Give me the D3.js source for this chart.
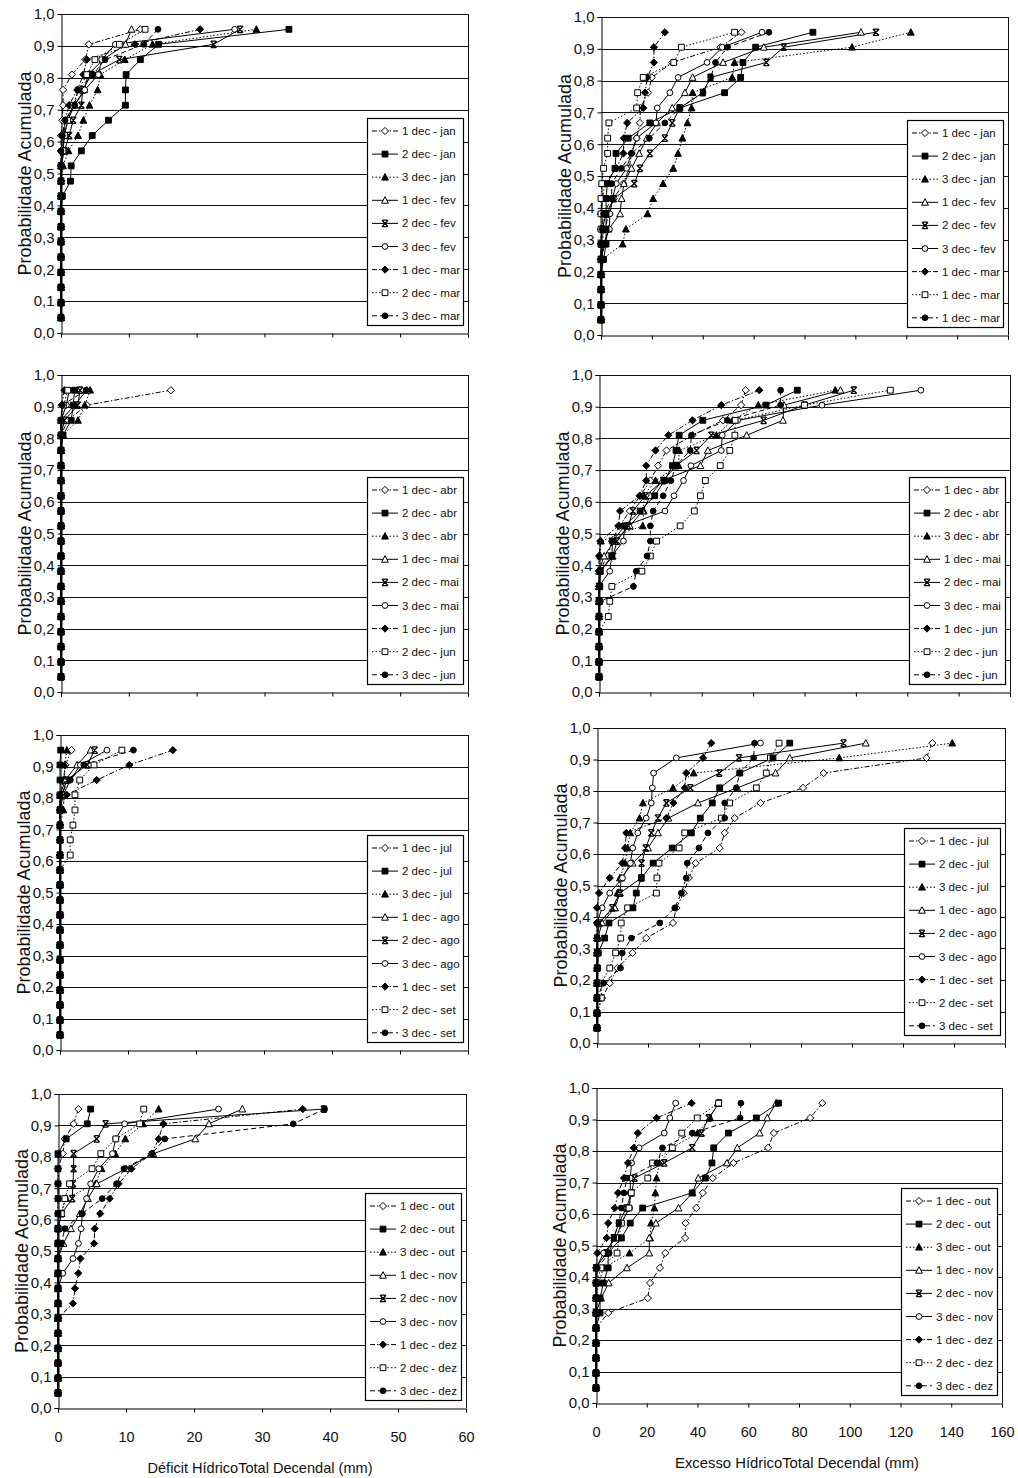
<!DOCTYPE html>
<html>
<head>
<meta charset="utf-8">
<script src="https://cdn.jsdelivr.net/npm/d3@7"></script>
<style>
  body { margin: 0; background: #fff; }
  svg { display: block; }
  text { font-family: "Liberation Sans", Arial, sans-serif; fill: #111; }
</style>
</head>
<body>
<svg id="chart" width="1018" height="1478"></svg>
<script>
// Cumulative probability of each ranked value (20 years), highest first
const probLevels = [0.952, 0.905, 0.857, 0.810, 0.762, 0.714, 0.667, 0.619, 0.571, 0.524,
                    0.476, 0.429, 0.381, 0.333, 0.286, 0.238, 0.190, 0.143, 0.095, 0.048];

const yTicks = [0, 0.1, 0.2, 0.3, 0.4, 0.5, 0.6, 0.7, 0.8, 0.9, 1.0];
const deficitTicks = [0, 10, 20, 30, 40, 50, 60];
const excessTicks = [0, 20, 40, 60, 80, 100, 120, 140, 160];

// ---- Water deficit per ten-day period (mm), ranked, highest first ----
const defJan1 = [11.7, 4.1, 3.6, 1.6, 0.3, 0.3, 0.2, 0, 0, 0, 0, 0, 0, 0, 0, 0, 0, 0, 0, 0];
const defJan2 = [33.6, 14.4, 11.7, 9.6, 9.5, 9.5, 7.0, 4.6, 3.0, 1.5, 1.4, 0.2, 0, 0, 0, 0, 0, 0, 0, 0];
const defJan3 = [28.8, 13.5, 9.4, 5.8, 5.4, 4.2, 3.3, 2.5, 1.1, 0.3, 0, 0, 0, 0, 0, 0, 0, 0, 0, 0];
const defFev1 = [10.4, 9.5, 6.2, 4.0, 3.4, 2.0, 1.0, 0.5, 0.3, 0, 0, 0, 0, 0, 0, 0, 0, 0, 0, 0];
const defFev2 = [26.4, 22.5, 8.6, 4.5, 3.2, 3.0, 1.8, 1.2, 0.5, 0, 0, 0, 0, 0, 0, 0, 0, 0, 0, 0];
const defFev3 = [25.6, 8.0, 6.0, 5.5, 3.5, 2.0, 0.6, 0.5, 0.2, 0, 0, 0, 0, 0, 0, 0, 0, 0, 0, 0];
const defMar1 = [20.5, 10.9, 3.8, 3.3, 2.4, 1.2, 0.6, 0.2, 0, 0, 0, 0, 0, 0, 0, 0, 0, 0, 0, 0];
const defMar2 = [12.4, 8.6, 5.0, 3.8, 2.6, 1.8, 1.0, 0.5, 0.3, 0, 0, 0, 0, 0, 0, 0, 0, 0, 0, 0];
const defMar3 = [14.3, 12.2, 6.5, 4.7, 2.5, 2.0, 0.6, 0.2, 0, 0, 0, 0, 0, 0, 0, 0, 0, 0, 0, 0];

const defAbr1 = [16.2, 3.8, 1.0, 0, 0, 0, 0, 0, 0, 0, 0, 0, 0, 0, 0, 0, 0, 0, 0, 0];
const defAbr2 = [2.0, 1.8, 1.5, 0.3, 0, 0, 0, 0, 0, 0, 0, 0, 0, 0, 0, 0, 0, 0, 0, 0];
const defAbr3 = [4.3, 3.5, 2.5, 0.3, 0, 0, 0, 0, 0, 0, 0, 0, 0, 0, 0, 0, 0, 0, 0, 0];
const defMai1 = [3.8, 2.0, 0, 0, 0, 0, 0, 0, 0, 0, 0, 0, 0, 0, 0, 0, 0, 0, 0, 0];
const defMai2 = [2.8, 2.5, 0.5, 0, 0, 0, 0, 0, 0, 0, 0, 0, 0, 0, 0, 0, 0, 0, 0, 0];
const defMai3 = [1.2, 0.8, 0, 0, 0, 0, 0, 0, 0, 0, 0, 0, 0, 0, 0, 0, 0, 0, 0, 0];
const defJun1 = [0.5, 0.1, 0, 0, 0, 0, 0, 0, 0, 0, 0, 0, 0, 0, 0, 0, 0, 0, 0, 0];
const defJun2 = [1.0, 0.4, 0, 0, 0, 0, 0, 0, 0, 0, 0, 0, 0, 0, 0, 0, 0, 0, 0, 0];
const defJun3 = [3.7, 0.2, 0, 0, 0, 0, 0, 0, 0, 0, 0, 0, 0, 0, 0, 0, 0, 0, 0, 0];

const defJul1 = [1.7, 0.8, 0.5, 0, 0, 0, 0, 0, 0, 0, 0, 0, 0, 0, 0, 0, 0, 0, 0, 0];
const defJul2 = [0.1, 0, 0, 0, 0, 0, 0, 0, 0, 0, 0, 0, 0, 0, 0, 0, 0, 0, 0, 0];
const defJul3 = [1.0, 0.7, 0.6, 0.6, 0.5, 0, 0, 0, 0, 0, 0, 0, 0, 0, 0, 0, 0, 0, 0, 0];
const defAgo1 = [4.5, 2.5, 0.8, 0, 0, 0, 0, 0, 0, 0, 0, 0, 0, 0, 0, 0, 0, 0, 0, 0];
const defAgo2 = [5.1, 4.0, 1.0, 0.3, 0, 0, 0, 0, 0, 0, 0, 0, 0, 0, 0, 0, 0, 0, 0, 0];
const defAgo3 = [6.9, 3.0, 1.5, 0.5, 0, 0, 0, 0, 0, 0, 0, 0, 0, 0, 0, 0, 0, 0, 0, 0];
const defSet1 = [16.6, 10.2, 5.4, 1.0, 0, 0, 0, 0, 0, 0, 0, 0, 0, 0, 0, 0, 0, 0, 0, 0];
const defSet2 = [9.1, 5.0, 2.9, 2.2, 2.2, 1.9, 1.5, 1.5, 0, 0, 0, 0, 0, 0, 0, 0, 0, 0, 0, 0];
const defSet3 = [10.8, 3.5, 1.5, 0, 0, 0, 0, 0, 0, 0, 0, 0, 0, 0, 0, 0, 0, 0, 0, 0];

const defOut1 = [3.0, 2.3, 1.0, 0.7, 0, 0, 0, 0, 0, 0, 0, 0, 0, 0, 0, 0, 0, 0, 0, 0];
const defOut2 = [4.8, 4.3, 1.2, 0, 0, 0, 0, 0, 0, 0, 0, 0, 0, 0, 0, 0, 0, 0, 0, 0];
const defOut3 = [14.8, 12.5, 9.9, 8.4, 6.4, 5.5, 1.2, 0.5, 0, 0, 0, 0, 0, 0, 0, 0, 0, 0, 0, 0];
const defNov1 = [27.1, 22.2, 20.2, 14.0, 10.0, 5.7, 4.4, 3.2, 1.9, 0.8, 0, 0, 0, 0, 0, 0, 0, 0, 0, 0];
const defNov2 = [39.1, 7.0, 5.7, 2.3, 2.3, 2.2, 2.1, 0.5, 0, 0, 0, 0, 0, 0, 0, 0, 0, 0, 0, 0];
const defNov3 = [23.6, 9.8, 8.5, 8.0, 6.0, 4.8, 4.2, 3.6, 3.4, 3.0, 2.2, 0.7, 0, 0, 0, 0, 0, 0, 0, 0];
const defDez1 = [36.0, 15.5, 14.8, 13.8, 10.8, 8.9, 7.6, 6.2, 5.4, 5.3, 3.3, 3.0, 2.5, 2.2, 0, 0, 0, 0, 0, 0];
const defDez2 = [12.6, 12.0, 8.5, 6.3, 5.0, 1.7, 1.0, 0.5, 0, 0, 0, 0, 0, 0, 0, 0, 0, 0, 0, 0];
const defDez3 = [39.2, 34.6, 15.7, 13.8, 9.7, 8.6, 6.5, 3.5, 1.0, 0.5, 0, 0, 0, 0, 0, 0, 0, 0, 0, 0];

// ---- Water excess per ten-day period (mm), ranked, highest first ----
const excJan1 = [55.2, 47.0, 28.0, 20.0, 18.5, 15.5, 15.3, 14.0, 12.0, 11.1, 8.8, 5.0, 3.0, 1.6, 0, 0, 0, 0, 0, 0];
const excJan2 = [83.3, 60.8, 55.8, 54.9, 48.6, 31.0, 19.2, 10.7, 5.9, 5.5, 2.5, 2.0, 2.0, 2.0, 2.0, 1.0, 0, 0, 0, 0];
const excJan3 = [121.8, 98.7, 52.5, 51.6, 36.0, 35.6, 34.0, 32.0, 30.3, 28.4, 24.4, 20.5, 18.3, 9.8, 8.5, 0.5, 0, 0, 0, 0];
const excFev1 = [102.2, 64.0, 48.0, 36.0, 33.0, 28.0, 22.0, 18.0, 15.0, 12.0, 9.0, 8.1, 7.5, 3.0, 1.5, 0, 0, 0, 0, 0];
const excFev2 = [108.1, 71.8, 65.0, 43.0, 40.0, 31.0, 28.0, 25.1, 19.2, 15.3, 13.1, 5.0, 2.0, 0.5, 0, 0, 0, 0, 0, 0];
const excFev3 = [63.3, 47.7, 41.7, 30.3, 27.1, 22.1, 21.6, 14.0, 12.0, 10.0, 6.0, 4.5, 3.5, 3.3, 1.0, 0, 0, 0, 0, 0];
const excMar1 = [25.1, 20.8, 20.8, 18.2, 17.3, 16.6, 10.3, 9.0, 8.8, 6.0, 1.6, 0.5, 0, 0, 0, 0, 0, 0, 0, 0];
const excMar2 = [52.5, 31.6, 28.6, 16.6, 14.4, 14.0, 3.1, 2.6, 2.6, 1.0, 0.3, 0, 0, 0, 0, 0, 0, 0, 0, 0];
const excMar3 = [66.0, 49.7, 45.0, 43.1, 40.1, 31.0, 25.1, 19.0, 12.0, 8.0, 4.2, 4.2, 1.0, 0.5, 0, 0, 0, 0, 0, 0];

const excAbr1 = [57.1, 55.3, 48.3, 36.4, 26.3, 23.0, 20.0, 16.0, 12.0, 8.0, 5.0, 3.5, 0, 0, 0, 0, 0, 0, 0, 0];
const excAbr2 = [77.2, 65.0, 40.4, 31.2, 30.0, 28.6, 25.5, 21.7, 16.0, 10.0, 5.3, 5.0, 0.5, 0.3, 0, 0, 0, 0, 0, 0];
const excAbr3 = [92.0, 62.0, 52.0, 45.7, 31.2, 31.0, 22.0, 17.4, 17.4, 17.0, 0.7, 0.5, 0.3, 0, 0, 0, 0, 0, 0, 0];
const excMai1 = [94.0, 72.0, 71.6, 57.5, 42.4, 39.5, 24.6, 20.0, 17.0, 12.0, 6.0, 2.0, 0, 0, 0, 0, 0, 0, 0, 0];
const excMai2 = [99.2, 80.0, 64.1, 43.7, 38.0, 30.0, 25.0, 18.0, 13.2, 11.4, 7.0, 5.5, 0.5, 0, 0, 0, 0, 0, 0, 0];
const excMai3 = [125.3, 86.8, 54.0, 48.0, 47.6, 35.8, 32.9, 29.2, 25.7, 10.0, 9.5, 5.0, 4.2, 0, 0, 0, 0, 0, 0, 0];
const excJun1 = [62.4, 47.6, 36.4, 27.0, 22.0, 18.4, 18.4, 15.8, 8.2, 7.5, 0.5, 0, 0, 0, 0, 0, 0, 0, 0, 0];
const excJun2 = [113.4, 80.0, 53.0, 52.9, 50.9, 47.2, 41.4, 39.5, 37.1, 31.6, 22.4, 20.0, 16.7, 5.0, 4.2, 3.6, 0, 0, 0, 0];
const excJun3 = [70.7, 70.7, 50.0, 36.0, 35.5, 30.0, 28.0, 25.0, 21.1, 20.0, 20.0, 18.7, 14.5, 13.4, 0.5, 0, 0, 0, 0, 0];

const excJul1 = [131.5, 129.2, 88.9, 80.8, 64.1, 54.0, 50.1, 48.1, 38.7, 36.0, 34.0, 31.1, 29.8, 19.3, 13.9, 8.0, 5.0, 2.0, 0, 0];
const excJul2 = [75.6, 69.0, 56.0, 48.1, 45.2, 40.5, 37.0, 29.5, 22.0, 17.4, 15.4, 14.1, 4.7, 3.0, 0.5, 0.2, 0, 0, 0, 0];
const excJul3 = [139.3, 95.0, 37.9, 29.8, 18.0, 16.7, 13.0, 12.0, 11.0, 9.0, 8.0, 7.0, 0.5, 0, 0, 0, 0, 0, 0, 0];
const excAgo1 = [105.4, 75.6, 70.0, 55.0, 39.6, 28.0, 23.9, 20.0, 14.0, 9.5, 9.0, 7.0, 2.0, 0.3, 0, 0, 0, 0, 0, 0];
const excAgo2 = [96.7, 55.7, 48.0, 36.6, 27.2, 23.9, 21.3, 19.1, 17.5, 17.4, 9.0, 6.0, 1.0, 0, 0, 0, 0, 0, 0, 0];
const excAgo3 = [64.1, 31.1, 22.2, 21.7, 21.3, 19.3, 16.0, 14.0, 13.1, 10.0, 5.0, 2.0, 0, 0, 0, 0, 0, 0, 0, 0];
const excSet1 = [44.8, 41.6, 35.0, 34.4, 30.0, 27.2, 11.5, 11.0, 9.9, 5.0, 0.8, 0, 0, 0, 0, 0, 0, 0, 0, 0];
const excSet2 = [71.4, 68.0, 66.4, 62.5, 52.0, 48.8, 34.4, 32.2, 24.3, 23.5, 23.3, 12.0, 9.5, 9.3, 7.3, 5.0, 1.7, 1.7, 0, 0];
const excSet3 = [61.8, 61.4, 56.0, 54.6, 50.1, 50.1, 43.5, 40.0, 35.4, 35.0, 33.1, 30.5, 24.6, 13.5, 9.9, 9.2, 2.6, 0, 0, 0];

const excOut1 = [89.2, 84.4, 70.1, 67.8, 54.2, 46.0, 42.1, 39.5, 35.3, 35.1, 27.3, 25.2, 21.3, 20.4, 4.8, 0, 0, 0, 0, 0];
const excOut2 = [71.9, 63.2, 52.2, 46.4, 45.7, 43.1, 37.9, 18.4, 13.5, 10.0, 4.8, 4.8, 2.9, 1.6, 1.6, 0, 0, 0, 0, 0];
const excOut3 = [48.0, 45.0, 40.0, 30.0, 25.0, 23.9, 23.4, 23.0, 21.7, 21.3, 13.2, 3.0, 1.0, 0, 0, 0, 0, 0, 0, 0];
const excNov1 = [71.0, 67.5, 64.5, 55.7, 51.6, 40.3, 38.0, 32.5, 23.6, 21.0, 21.0, 12.2, 5.0, 2.0, 0, 0, 0, 0, 0, 0];
const excNov2 = [48.5, 44.4, 41.6, 37.9, 26.9, 15.2, 14.0, 12.0, 9.0, 7.0, 4.0, 0, 0, 0, 0, 0, 0, 0, 0, 0];
const excNov3 = [31.4, 29.1, 26.9, 17.0, 14.0, 13.5, 13.5, 13.2, 10.0, 8.0, 3.0, 0, 0, 0, 0, 0, 0, 0, 0, 0];
const excDez1 = [37.7, 23.9, 16.5, 14.9, 12.6, 11.0, 8.7, 7.4, 4.8, 4.2, 0.5, 0, 0, 0, 0, 0, 0, 0, 0, 0];
const excDez2 = [48.3, 39.9, 33.8, 30.1, 22.3, 20.4, 13.9, 13.0, 10.0, 9.1, 8.3, 2.0, 0, 0, 0, 0, 0, 0, 0, 0];
const excDez3 = [57.1, 56.8, 38.0, 26.2, 24.0, 12.2, 11.0, 10.0, 9.0, 7.0, 5.2, 0.5, 0, 0, 0, 0, 0, 0, 0, 0];

// ---- Legend labels ----
const labelsDefJanMar = ["1 dec - jan", "2 dec - jan", "3 dec - jan", "1 dec - fev", "2 dec - fev", "3 dec - fev", "1 dec - mar", "2 dec - mar", "3 dec - mar"];
const labelsExcJanMar = ["1 dec - jan", "2 dec - jan", "3 dec - jan", "1 dec - fev", "2 dec - fev", "3 dec - fev", "1 dec - mar", "1 dec - mar", "1 dec - mar"];
const labelsAbrJun = ["1 dec - abr", "2 dec - abr", "3 dec - abr", "1 dec - mai", "2 dec - mai", "3 dec - mai", "1 dec - jun", "2 dec - jun", "3 dec - jun"];
const labelsJulSet = ["1 dec - jul", "2 dec - jul", "3 dec - jul", "1 dec - ago", "2 dec - ago", "3 dec - ago", "1 dec - set", "2 dec - set", "3 dec - set"];
const labelsOutDez = ["1 dec - out", "2 dec - out", "3 dec - out", "1 dec - nov", "2 dec - nov", "3 dec - nov", "1 dec - dez", "2 dec - dez", "3 dec - dez"];

const yTitle = "Probabilidade Acumulada";
const deficitTitle = "Déficit HídricoTotal Decendal (mm)";
const excessTitle = "Excesso HídricoTotal Decendal (mm)";

// Marker and line style of the nine series of every panel
const seriesStyles = [
  { marker: "diamond", filled: false, dash: "5,2,1.5,2" },
  { marker: "square",  filled: true,  dash: null },
  { marker: "triangle", filled: true, dash: "1.5,2" },
  { marker: "triangle", filled: false, dash: null },
  { marker: "cross",   filled: false, dash: null },
  { marker: "circle",  filled: false, dash: null },
  { marker: "diamond", filled: true,  dash: "5,2,1.5,2" },
  { marker: "square",  filled: false, dash: "1.5,2" },
  { marker: "circle",  filled: true,  dash: "5,3" }
];

const panels = [
  { series: [defJan1, defJan2, defJan3, defFev1, defFev2, defFev3, defMar1, defMar2, defMar3], labels: labelsDefJanMar,
    ticks: deficitTicks, frame: { x0: 61, x1: 468, y0: 14, y1: 333 }, bottom: false, title: deficitTitle },
  { series: [defAbr1, defAbr2, defAbr3, defMai1, defMai2, defMai3, defJun1, defJun2, defJun3], labels: labelsAbrJun,
    ticks: deficitTicks, frame: { x0: 61, x1: 468, y0: 375, y1: 692 }, bottom: false, title: deficitTitle },
  { series: [defJul1, defJul2, defJul3, defAgo1, defAgo2, defAgo3, defSet1, defSet2, defSet3], labels: labelsJulSet,
    ticks: deficitTicks, frame: { x0: 60, x1: 468, y0: 735, y1: 1050 }, bottom: false, title: deficitTitle },
  { series: [defOut1, defOut2, defOut3, defNov1, defNov2, defNov3, defDez1, defDez2, defDez3], labels: labelsOutDez,
    ticks: deficitTicks, frame: { x0: 58, x1: 466, y0: 1094, y1: 1408 }, bottom: true, title: deficitTitle },
  { series: [excJan1, excJan2, excJan3, excFev1, excFev2, excFev3, excMar1, excMar2, excMar3], labels: labelsExcJanMar,
    ticks: excessTicks, frame: { x0: 601, x1: 1008, y0: 17, y1: 335 }, bottom: false, title: excessTitle },
  { series: [excAbr1, excAbr2, excAbr3, excMai1, excMai2, excMai3, excJun1, excJun2, excJun3], labels: labelsAbrJun,
    ticks: excessTicks, frame: { x0: 599, x1: 1010, y0: 375, y1: 692 }, bottom: false, title: excessTitle },
  { series: [excJul1, excJul2, excJul3, excAgo1, excAgo2, excAgo3, excSet1, excSet2, excSet3], labels: labelsJulSet,
    ticks: excessTicks, frame: { x0: 597, x1: 1005, y0: 728, y1: 1043 }, bottom: false, title: excessTitle },
  { series: [excOut1, excOut2, excOut3, excNov1, excNov2, excNov3, excDez1, excDez2, excDez3], labels: labelsOutDez,
    ticks: excessTicks, frame: { x0: 596, x1: 1002, y0: 1088, y1: 1403 }, bottom: true, title: excessTitle }
];

panels.forEach(p => p.series.forEach(s => {
  if (s.length !== probLevels.length) throw new Error("series length " + s.length);
}));

function markerPath(type) {
  switch (type) {
    case "diamond":  return "M0,-3.6L3.6,0L0,3.6L-3.6,0Z";
    case "square":   return "M-2.9,-2.9H2.9V2.9H-2.9Z";
    case "triangle": return "M0,-3.6L3.4,2.9H-3.4Z";
    case "circle":   return "M2.9,0A2.9,2.9 0 1,1 -2.9,0A2.9,2.9 0 1,1 2.9,0Z";
    case "cross":    return "M-3,-3.2L3,3.2M3,-3.2L-3,3.2M-2.6,-3.2H2.6M-2.6,3.2H2.6";
  }
}

function drawMarker(g, style, x, y) {
  const m = g.append("path")
    .attr("d", markerPath(style.marker))
    .attr("transform", `translate(${x},${y})`)
    .attr("stroke", "#000")
    .attr("stroke-width", style.marker === "cross" ? 1.3 : 1);
  if (style.marker === "cross") m.attr("fill", "none");
  else m.attr("fill", style.filled ? "#000" : "#fff");
}

const svg = d3.select("#chart");

panels.forEach(p => {
  const f = p.frame;
  const xMax = p.ticks[p.ticks.length - 1];
  const x = d3.scaleLinear().domain([0, xMax]).range([f.x0, f.x1]);
  const y = d3.scaleLinear().domain([0, 1]).range([f.y1, f.y0]);
  const g = svg.append("g");

  // horizontal grid
  g.append("g").selectAll("line").data(yTicks.filter(t => t > 0)).join("line")
    .attr("x1", f.x0).attr("x2", f.x1)
    .attr("y1", d => Math.round(y(d)) + 0.5).attr("y2", d => Math.round(y(d)) + 0.5)
    .attr("stroke", "#111").attr("stroke-width", 1);

  // frame (right side)
  g.append("line").attr("x1", f.x1 + 0.5).attr("x2", f.x1 + 0.5).attr("y1", f.y0).attr("y2", f.y1)
    .attr("stroke", "#111");

  // y axis
  const yAxis = d3.axisLeft(y).tickValues(yTicks).tickSize(4).tickPadding(3)
    .tickFormat(d => d.toFixed(1).replace(".", ","));
  const ya = g.append("g").attr("transform", `translate(${f.x0 + 0.5},0)`).call(yAxis);
  ya.select(".domain").attr("stroke", "#000");
  ya.selectAll(".tick line").attr("stroke", "#000");
  ya.selectAll(".tick text").attr("font-size", 15).attr("fill", "#111")
    .attr("font-family", '"Liberation Sans", Arial, sans-serif');

  // x axis
  const xAxis = d3.axisBottom(x).tickValues(p.ticks).tickSize(4).tickPadding(19)
    .tickFormat(d => p.bottom ? String(d) : "");
  const xa = g.append("g").attr("transform", `translate(0,${f.y1 + 0.5})`).call(xAxis);
  xa.select(".domain").attr("stroke", "#000");
  xa.selectAll(".tick line").attr("stroke", "#000");
  xa.selectAll(".tick text").attr("font-size", 14.5).attr("fill", "#111")
    .attr("font-family", '"Liberation Sans", Arial, sans-serif');

  // y title
  g.append("text")
    .attr("transform", `translate(${f.x0 - 30},${(f.y0 + f.y1) / 2}) rotate(-90)`)
    .attr("text-anchor", "middle").attr("font-size", 18).text(yTitle);

  // x title on the bottom panels
  if (p.bottom) {
    g.append("text")
      .attr("x", (f.x0 + f.x1) / 2 - 2).attr("y", f.y1 + 65)
      .attr("text-anchor", "middle").attr("font-size", 14.5)
      .attr("textLength", p.ticks === deficitTicks ? 225 : 244)
      .attr("lengthAdjust", "spacingAndGlyphs")
      .text(p.title);
  }

  // series lines
  const line = d3.line().x(d => x(d[0])).y(d => y(d[1]));
  const pts = p.series.map(s => s.map((v, i) => [v, probLevels[i]]));
  pts.forEach((d, k) => {
    const st = seriesStyles[k];
    g.append("path").datum(d).attr("d", line)
      .attr("fill", "none").attr("stroke", "#000").attr("stroke-width", 1)
      .attr("stroke-dasharray", st.dash);
  });

  // series markers, the filled-square series on top
  const order = [0, 2, 3, 4, 5, 6, 7, 8, 1];
  order.forEach(k => {
    const st = seriesStyles[k];
    const mg = g.append("g");
    pts[k].forEach(d => drawMarker(mg, st, x(d[0]), y(d[1])));
  });

  // legend
  const lw = 96, lh = 207;
  const lx = f.x1 - 101, ly = f.y1 - 215;
  const lg = g.append("g");
  lg.append("rect").attr("x", lx + 0.5).attr("y", ly + 0.5).attr("width", lw).attr("height", lh)
    .attr("fill", "#fff").attr("stroke", "#000").attr("stroke-width", 1.2);
  p.labels.forEach((lab, k) => {
    const st = seriesStyles[k];
    const cy = ly + 13 + k * 23.1;
    lg.append("line").attr("x1", lx + 5).attr("x2", lx + 31).attr("y1", cy).attr("y2", cy)
      .attr("stroke", "#000").attr("stroke-width", 1).attr("stroke-dasharray", st.dash);
    drawMarker(lg, st, lx + 18, cy);
    lg.append("text").attr("x", lx + 35).attr("y", cy + 4)
      .attr("font-size", 11.5).text(lab);
  });
});
</script>
</body>
</html>
